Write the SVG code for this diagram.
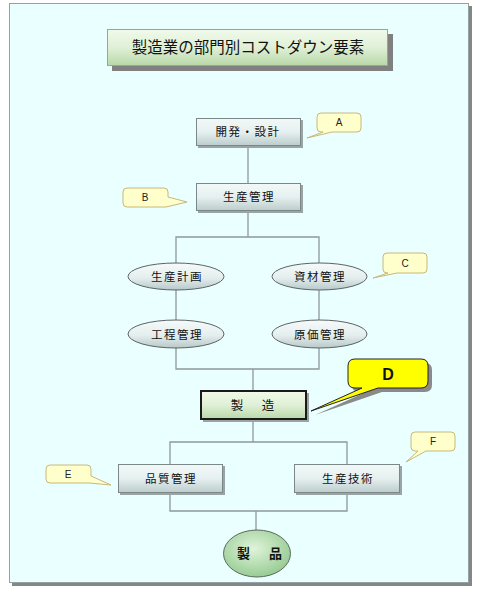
<svg xmlns="http://www.w3.org/2000/svg" width="480" height="590" viewBox="0 0 480 590">
<defs>
<linearGradient id="gBox" x1="0" y1="0" x2="0" y2="1">
<stop offset="0" stop-color="#f2f8f8"/><stop offset="0.5" stop-color="#e6f0f0"/><stop offset="1" stop-color="#bccccc"/>
</linearGradient>
<linearGradient id="gGreen" x1="0" y1="0" x2="0" y2="1">
<stop offset="0" stop-color="#f0faea"/><stop offset="0.5" stop-color="#e0f0d6"/><stop offset="1" stop-color="#b8d8a8"/>
</linearGradient>
<linearGradient id="gEll" x1="0" y1="0" x2="0" y2="1">
<stop offset="0" stop-color="#f6fafa"/><stop offset="0.55" stop-color="#e4eeee"/><stop offset="1" stop-color="#b8c8c8"/>
</linearGradient>
<radialGradient id="gProd" cx="0.45" cy="0.4" r="0.6">
<stop offset="0" stop-color="#e0f4da"/><stop offset="1" stop-color="#98cc94"/>
</radialGradient>
<style>
.line{stroke:#909898;stroke-width:1.3;fill:none}
.box{fill:url(#gBox);stroke:#7a8888;stroke-width:1}
.shadow{fill:#9aa4a4}
.ell{fill:url(#gEll);stroke:#5a6464;stroke-width:1}
.call{fill:#ffffcc;stroke:#c8b87a;stroke-width:1}
.lbl{font-family:"Noto Sans CJK JP","Noto Sans",sans-serif;font-size:11.5px;fill:#111;text-anchor:middle;letter-spacing:1.5px}
.clbl{font-family:"Liberation Sans",Arial,sans-serif;font-size:10px;fill:#222;text-anchor:middle}
</style>
</defs>
<rect x="12" y="6" width="460" height="580" fill="#808888"/>
<rect x="9.5" y="3.5" width="459" height="579" fill="#eaffff" stroke="#98a0a0" stroke-width="1"/>

<g id="title">
<rect x="112" y="34" width="281" height="37" fill="#808080"/>
<rect x="107.5" y="29.5" width="280" height="36" fill="url(#gGreen)" stroke="#90a8a0"/>
<text x="248" y="53" font-family="Noto Sans CJK JP,sans-serif" font-size="15.5" text-anchor="middle" fill="#111">製造業の部門別コストダウン要素</text>
</g>

<g id="connectors">
<line class="line" x1="248" y1="146" x2="248" y2="183"/>
<polyline class="line" points="248,211 248,237"/>
<polyline class="line" points="176,263 176,237 319,237 319,263"/>
<line class="line" x1="176" y1="290" x2="176" y2="320"/>
<line class="line" x1="319" y1="290" x2="319" y2="320"/>
<polyline class="line" points="176,348 176,369 319,369 319,348"/>
<line class="line" x1="253" y1="369" x2="253" y2="391"/>
<line class="line" x1="253" y1="419" x2="253" y2="442"/>
<polyline class="line" points="170,464 170,442 347,442 347,464"/>
<polyline class="line" points="170,493 170,511 347,511 347,493"/>
<line class="line" x1="256" y1="511" x2="256" y2="530"/>
</g>

<g id="n-kaihatsu">
<rect class="shadow" x="198" y="120" width="105" height="28"/>
<rect class="box" x="196.5" y="118.5" width="104" height="27"/>
<text class="lbl" x="248" y="136" letter-spacing="0">開発・設計</text>
</g>
<g id="n-seisan-kanri">
<rect class="shadow" x="198" y="185" width="105" height="28"/>
<rect class="box" x="196.5" y="183.5" width="104" height="27"/>
<text class="lbl" x="249" y="201">生産管理</text>
</g>
<g id="n-seisan-keikaku">
<ellipse class="ell" cx="176" cy="276.5" rx="48" ry="13.5"/>
<text class="lbl" x="177" y="281">生産計画</text>
</g>
<g id="n-shizai">
<ellipse class="ell" cx="319.5" cy="276.5" rx="47.5" ry="13.5"/>
<text class="lbl" x="320" y="281">資材管理</text>
</g>
<g id="n-koutei">
<ellipse class="ell" cx="176" cy="334" rx="48" ry="14"/>
<text class="lbl" x="177" y="338.5">工程管理</text>
</g>
<g id="n-genka">
<ellipse class="ell" cx="319.5" cy="334" rx="47.5" ry="14"/>
<text class="lbl" x="320" y="338.5">原価管理</text>
</g>
<g id="n-seizou">
<rect class="shadow" x="203" y="393" width="106" height="29"/>
<rect x="201" y="391" width="105" height="28" fill="url(#gGreen)" stroke="#1a1a1a" stroke-width="2"/>
<text x="254" y="410" font-family="Noto Sans CJK JP,sans-serif" font-size="12.5" text-anchor="middle" fill="#111" letter-spacing="3">製　造</text>
</g>
<g id="n-hinshitsu">
<rect class="shadow" x="120" y="466" width="105" height="29"/>
<rect class="box" x="118.5" y="464.5" width="104" height="28"/>
<text class="lbl" x="171" y="483">品質管理</text>
</g>
<g id="n-gijutsu">
<rect class="shadow" x="296" y="466" width="106" height="29"/>
<rect class="box" x="294.5" y="464.5" width="105" height="28"/>
<text class="lbl" x="348" y="483">生産技術</text>
</g>
<g id="n-seihin">
<ellipse cx="257" cy="553.5" rx="33.5" ry="23.5" fill="url(#gProd)" stroke="#5a6a5a"/>
<text x="261" y="558" font-family="Noto Sans CJK JP,sans-serif" font-size="13" font-weight="bold" text-anchor="middle" fill="#111" letter-spacing="3">製　品</text>
</g>

<g id="callout-A">
<path class="call" d="M321,113 H357 Q361,113 361,117 V128 Q361,132 357,132 H332 L307,138 L323,132 H321 Q317,132 317,128 V117 Q317,113 321,113 Z"/>
<text class="clbl" x="339" y="126">A</text>
</g>
<g id="callout-B">
<path class="call" d="M127,188 H164 Q168,188 168,192 V197 L187,202 L166,207 H127 Q123,207 123,203 V192 Q123,188 127,188 Z"/>
<text class="clbl" x="145" y="201">B</text>
</g>
<g id="callout-C">
<path class="call" d="M387,253 H423 Q427,253 427,257 V269 Q427,273 423,273 H397 L373,278 L388,273 H387 Q383,273 383,269 V257 Q383,253 387,253 Z"/>
<text class="clbl" x="405" y="267">C</text>
</g>
<g id="callout-D">
<path d="M359,363 H425 Q432,363 432,370 V385 Q432,392 425,392 H382 L315,415 L366,392 H359 Q352,392 352,385 V370 Q352,363 359,363 Z" fill="#8a8a8a"/>
<path d="M355,359 H421 Q428,359 428,366 V381 Q428,388 421,388 H378 L311,411 L362,388 H355 Q348,388 348,381 V366 Q348,359 355,359 Z" fill="#ffff00" stroke="#222" stroke-width="1"/>
<text x="388" y="380" font-family="Liberation Sans,Arial,sans-serif" font-size="16" font-weight="bold" text-anchor="middle" fill="#111">D</text>
</g>
<g id="callout-E">
<path class="call" d="M50,465 H87 Q91,465 91,469 V476 L111,485 L89,483 H50 Q46,483 46,479 V469 Q46,465 50,465 Z"/>
<text class="clbl" x="68" y="478">E</text>
</g>
<g id="callout-F">
<path class="call" d="M415,432 H451 Q455,432 455,436 V447 Q455,451 451,451 H426 L406,462 L418,451 H415 Q411,451 411,447 V436 Q411,432 415,432 Z"/>
<text class="clbl" x="433" y="445">F</text>
</g>
</svg>
